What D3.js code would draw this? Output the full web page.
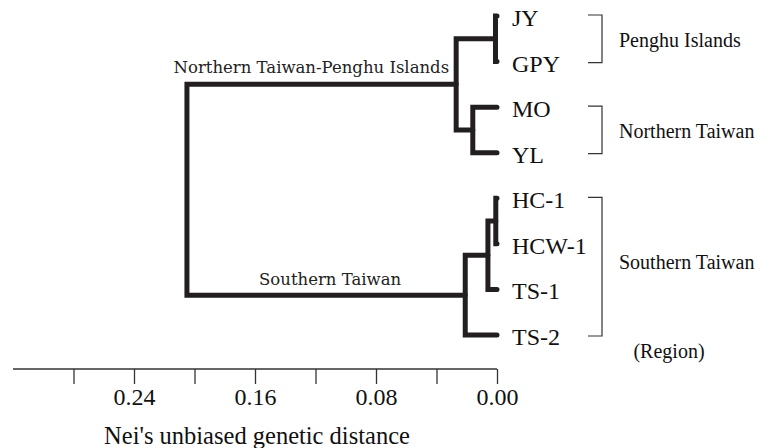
<!DOCTYPE html>
<html>
<head>
<meta charset="utf-8">
<script src="https://cdn.jsdelivr.net/npm/d3@7"></script>
<style>
  html, body { margin: 0; padding: 0; background: #fff; }
  svg { display: block; }
</style>
</head>
<body>
<svg id="chart" width="768" height="448"></svg>
<script>
// ---- data ----
const leaves = ["JY", "GPY", "MO", "YL", "HC-1", "HCW-1", "TS-1", "TS-2"];
// merges: [id, child1, child2, height (Nei's distance)]
const mergeIds = ["n1", "n2", "n3", "n4", "n5", "n6", "n7"];
const mergeLeft = ["JY", "MO", "n1", "HC-1", "n4", "n5", "n3"];
const mergeRight = ["GPY", "YL", "n2", "HCW-1", "TS-1", "TS-2", "n6"];
const mergeHeight = [0.001, 0.016, 0.027, 0.0008, 0.006, 0.021, 0.205];
const cladeNames = ["Northern Taiwan-Penghu Islands", "Southern Taiwan"];
const cladeNodes = ["n3", "n6"];
const regionNames = ["Penghu Islands", "Northern Taiwan", "Southern Taiwan"];
const regionFirst = ["JY", "MO", "HC-1"];
const regionLast = ["GPY", "YL", "TS-2"];
const tickValues = [0.28, 0.24, 0.20, 0.16, 0.12, 0.08, 0.04, 0.00];
const tickLabels = ["", "0.24", "", "0.16", "", "0.08", "", "0.00"];
const axisDomain = [0.32, 0];
const axisTitle = "Nei's unbiased genetic distance";
const footnote = "(Region)";

// ---- scales ----
const svg = d3.select("#chart");
const x = d3.scaleLinear().domain(axisDomain).range([13, 497]);
const y = d3.scalePoint().domain(leaves).range([16, 335]);

const ink = "#231f20";
const serif = "'Liberation Serif', 'Times New Roman', serif";
const slab = "'DejaVu Serif', serif";

// node table
const nodes = new Map();
leaves.forEach(l => nodes.set(l, { id: l, h: 0, y: y(l) }));
mergeIds.forEach((id, i) => {
  const a = nodes.get(mergeLeft[i]), b = nodes.get(mergeRight[i]);
  nodes.set(id, { id, h: mergeHeight[i], y: (a.y + b.y) / 2, a, b });
});

// ---- tree branches ----
const tree = svg.append("g");
mergeIds.forEach(id => {
  const n = nodes.get(id);
  const p = d3.path();
  p.moveTo(x(n.a.h), n.a.y);
  p.lineTo(x(n.h), n.a.y);
  p.lineTo(x(n.h), n.b.y);
  p.lineTo(x(n.b.h), n.b.y);
  tree.append("path")
    .attr("d", p.toString())
    .attr("fill", "none")
    .attr("stroke", ink)
    .attr("stroke-width", 5)
    .attr("stroke-linejoin", "miter")
    .attr("stroke-linecap", "round");
});

// leaf labels
svg.append("g").selectAll("text").data(leaves).join("text")
  .attr("x", x(0) + 15)
  .attr("y", d => y(d) + 10)
  .attr("font-family", serif)
  .attr("font-size", 24)
  .attr("fill", "#111")
  .text(d => d);

// clade annotations
const nN = nodes.get(cladeNodes[0]);
svg.append("text")
  .attr("x", x(nN.h) - 7)
  .attr("y", nN.y - 11)
  .attr("text-anchor", "end")
  .attr("font-family", slab)
  .attr("font-size", 16.5)
  .attr("fill", "#222")
  .text(cladeNames[0]);
const sN = nodes.get(cladeNodes[1]);
const rootH = mergeHeight[mergeHeight.length - 1];
svg.append("text")
  .attr("x", (x(rootH) + x(sN.h)) / 2 + 4)
  .attr("y", sN.y - 10)
  .attr("text-anchor", "middle")
  .attr("font-family", slab)
  .attr("font-size", 16.5)
  .attr("fill", "#222")
  .text(cladeNames[1]);

// region brackets
const bx = 602, bw = 14;
const brackets = svg.append("g");
regionNames.forEach((name, i) => {
  const y0 = y(regionFirst[i]) - 1, y1 = y(regionLast[i]) + 1;
  brackets.append("path")
    .attr("d", `M${bx - bw},${y0}H${bx}V${y1}H${bx - bw}`)
    .attr("fill", "none")
    .attr("stroke", "#333")
    .attr("stroke-width", 1.2);
  const labelY = i === 2 ? y(regionFirst[i] === "HC-1" ? "HCW-1" : regionFirst[i]) / 2 + y("TS-1") / 2 + 2 : (y0 + y1) / 2 + 8;
  brackets.append("text")
    .attr("x", bx + 17)
    .attr("y", labelY)
    .attr("font-family", serif)
    .attr("font-size", 20)
    .attr("fill", "#111")
    .text(name);
});
svg.append("text")
  .attr("x", 669)
  .attr("y", y(regionLast[2]) + 23)
  .attr("text-anchor", "middle")
  .attr("font-family", serif)
  .attr("font-size", 20)
  .attr("fill", "#111")
  .text(footnote);

// ---- axis ----
const axis = d3.axisBottom(x)
  .tickValues(tickValues)
  .tickSize(15)
  .tickPadding(5)
  .tickFormat((d, i) => tickLabels[i]);
const ax = svg.append("g").attr("transform", "translate(0,369)").call(axis);
ax.select(".domain").attr("d", `M${x(axisDomain[0])},0H${x(axisDomain[1])}`)
  .attr("stroke", "#333").attr("stroke-width", 1.3);
ax.selectAll(".tick line").attr("stroke", "#333").attr("stroke-width", 1.3);
ax.selectAll(".tick text")
  .attr("font-family", serif)
  .attr("font-size", 24)
  .attr("fill", "#111")
  .attr("dy", null)
  .attr("y", 36);

svg.append("text")
  .attr("x", 257)
  .attr("y", 444)
  .attr("text-anchor", "middle")
  .attr("font-family", serif)
  .attr("font-size", 24.5)
  .attr("fill", "#111")
  .text(axisTitle);
</script>
</body>
</html>
